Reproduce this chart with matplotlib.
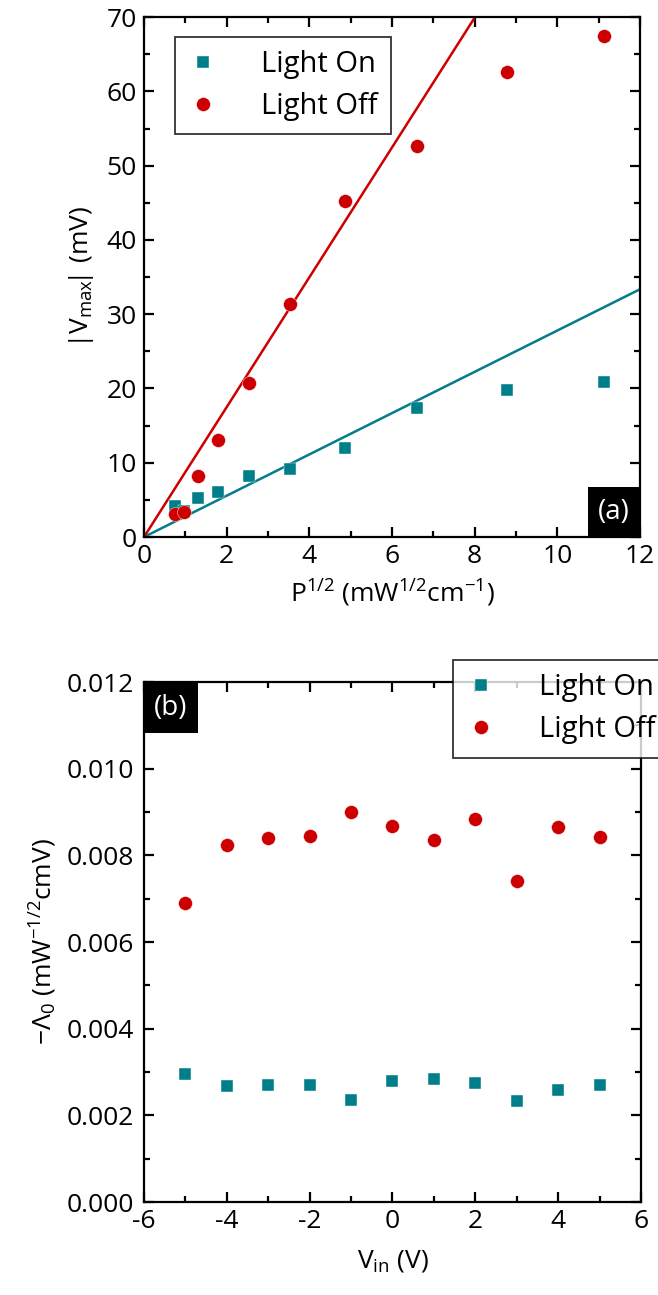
import numpy as np
from matplotlib import pyplot as plt
from matplotlib.ticker import MultipleLocator
from matplotlib.patches import Rectangle

plt.rcParams['font.family'] = ['Open Sans', 'DejaVu Sans']
plt.rcParams['mathtext.default'] = 'regular'
plt.rcParams['axes.unicode_minus'] = False

teal = '#007F8A'
red = '#CC0000'

# panel (a)
P_half = [0.75, 0.97, 1.30, 1.80, 2.54, 3.53, 4.86, 6.61, 8.78, 11.13]
V_on = [4.2, 3.5, 5.3, 6.0, 8.2, 9.2, 12.0, 17.4, 19.8, 20.9]
V_off = [3.1, 3.35, 8.2, 13.0, 20.7, 31.4, 45.3, 52.6, 62.6, 67.5]
slope_on = 2.78
slope_off = 8.74

# panel (b)
V_in = [-5, -4, -3, -2, -1, 0, 1, 2, 3, 4, 5]
L_on = [0.00295, 0.00268, 0.00271, 0.00271, 0.00235, 0.00279, 0.00285, 0.00275, 0.00233, 0.00258, 0.00271]
L_off = [0.00689, 0.00823, 0.00839, 0.00845, 0.00901, 0.00868, 0.00836, 0.00885, 0.00741, 0.00865, 0.00842]

fs = 19
lfs = 21

fig = plt.figure(figsize=(6.58, 12.95), dpi=100)
ax1 = fig.add_axes([0.2188, 0.5853, 0.7538, 0.4015])
ax2 = fig.add_axes([0.2188, 0.0718, 0.7553, 0.4015])


def style(ax):
	for s in ax.spines.values():
		s.set_linewidth(1.6)
	ax.tick_params(which='both', direction='in', top=True, right=True, labelsize=fs, width=1.6)
	ax.tick_params(which='major', length=7, pad=5)
	ax.tick_params(which='minor', length=4)


def tag(ax, txt, x0, y0, w, h):
	ax.add_patch(Rectangle((x0, y0), w, h, transform=ax.transAxes, fc='black', ec='none',
		zorder=5, clip_on=False))
	ax.text(x0 + w / 2, y0 + h / 2, txt, transform=ax.transAxes, fontsize=20, color='white',
		fontstyle='normal', ha='center', va='center', zorder=6)


def legend(ax, x, y):
	lg = ax.legend(loc='upper left', bbox_to_anchor=(x, y), fontsize=lfs, frameon=True,
		fancybox=False, edgecolor='black', handlelength=1.0, handletextpad=1.5,
		borderpad=0.45, labelspacing=0.45, borderaxespad=0)
	lg.get_frame().set_linewidth(1.3)
	return lg


xx = np.array([0, 12])
ax1.plot(xx, slope_on * xx, color=teal, lw=1.8, zorder=2)
ax1.plot(xx, slope_off * xx, color=red, lw=1.8, zorder=2)
ax1.plot(P_half, V_on, 's', color=teal, ms=9, mec='white', mew=0.3, label='Light On', zorder=3)
ax1.plot(P_half, V_off, 'o', color=red, ms=10, mec='white', mew=0.3, label='Light Off', zorder=3)
ax1.set_xlim(0, 12)
ax1.set_ylim(0, 70)
ax1.xaxis.set_major_locator(MultipleLocator(2))
ax1.xaxis.set_minor_locator(MultipleLocator(1))
ax1.yaxis.set_major_locator(MultipleLocator(10))
ax1.yaxis.set_minor_locator(MultipleLocator(5))
style(ax1)
ax1.set_xlabel('P$^{1/2}$ (mW$^{1/2}$cm$^{-1}$)', fontsize=fs, labelpad=6)
ax1.set_ylabel(r'$|V_{max}\!|$ (mV)', fontsize=fs, labelpad=8)
legend(ax1, 0.0625, 0.9615)
tag(ax1, '(a)', 0.895, 0.0, 0.105, 0.096)

ax2.plot(V_in, L_on, 's', color=teal, ms=9, mec='white', mew=0.3, label='Light On')
ax2.plot(V_in, L_off, 'o', color=red, ms=10, mec='white', mew=0.3, label='Light Off')
ax2.set_xlim(-6, 6)
ax2.set_ylim(0, 0.012)
ax2.xaxis.set_major_locator(MultipleLocator(2))
ax2.xaxis.set_minor_locator(MultipleLocator(1))
ax2.yaxis.set_major_locator(MultipleLocator(0.002))
ax2.yaxis.set_minor_locator(MultipleLocator(0.001))
ax2.yaxis.set_major_formatter(plt.FormatStrFormatter('%.3f'))
style(ax2)
ax2.tick_params(axis='y', pad=7)
ax2.set_xlabel('V$_{in}$ (V)', fontsize=fs, labelpad=10)
ax2.set_ylabel('\u2212\u039b$_0$ (mW$^{-1/2}$cmV)', fontsize=fs, labelpad=6)
legend(ax2, 0.622, 1.042)
tag(ax2, '(b)', 0.0, 0.902, 0.109, 0.098)

plt.savefig('out.png', dpi=100)
plt.close()
